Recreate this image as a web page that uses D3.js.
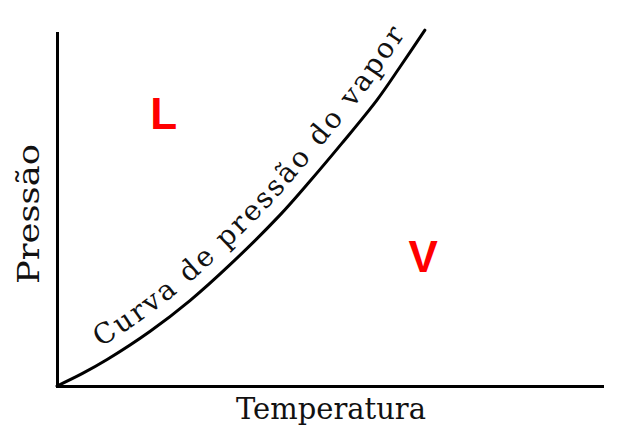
<!DOCTYPE html>
<html><head><meta charset="utf-8">
<script src="https://cdn.jsdelivr.net/npm/d3@7"></script>
<style>body{margin:0;background:#fff}svg{display:block}</style>
</head><body>
<svg id="c" width="621" height="447"></svg>
<script>
// Vapour-pressure curve (arbitrary units)
const temperature = [0, 4.6, 9.2, 17.1, 24.4, 31.7, 40.9, 46.4, 52.3, 58.7, 62.9, 67.5];
const pressure    = [0, 3.5, 7.5, 15.5, 24.2, 34.3, 48.4, 58.0, 68.8, 81.0, 90.3, 100.8];
const curveLabel = "Curva de pressão do vapor";
const xTitle = "Temperatura";
const yTitle = "Pressão";
const regionLabels = ["L", "V"];
const regionT = [19.6, 67.2];
const regionP = [72.8, 32.3];

const svg = d3.select("#c");
const x = d3.scaleLinear().domain([0, 100]).range([57, 602]);
const y = d3.scaleLinear().domain([0, 100]).range([386, 33]);

// axes (lines only)
svg.append("g").attr("transform", `translate(0,${y(0)})`)
  .call(d3.axisBottom(x).tickValues([]).tickSizeOuter(0));
svg.append("g").attr("transform", `translate(${x(0)},0)`)
  .call(d3.axisLeft(y).tickValues([]).tickSizeOuter(0));
svg.selectAll(".domain").attr("stroke", "#000").attr("stroke-width", 3).attr("stroke-linecap", "square");

// curve
const pts = temperature.map((t, i) => [x(t), y(pressure[i])]);
const line = d3.line().curve(d3.curveCatmullRom.alpha(0.5));
const curve = svg.append("path").attr("d", line(pts))
  .attr("fill", "none").attr("stroke", "#000").attr("stroke-width", 3).attr("stroke-linecap", "round");

// offset path for label
const node = curve.node();
const L = node.getTotalLength();
const off = 14, N = 200, samples = [];
for (let i = 0; i <= N; i++) {
  const s = L * i / N;
  const a = node.getPointAtLength(Math.max(0, s - 1)), b = node.getPointAtLength(Math.min(L, s + 1));
  const p = node.getPointAtLength(s);
  let dx = b.x - a.x, dy = b.y - a.y; const m = Math.hypot(dx, dy) || 1; dx /= m; dy /= m;
  samples.push([p.x + dy * off, p.y - dx * off]);
}
svg.append("defs").append("path").attr("id", "lblpath").attr("d", d3.line()(samples));

// label laid out word by word along the path
const font = {family: "DejaVu Serif", size: 28};
function measure(str) {
  const t = svg.append("text").attr("font-family", font.family).attr("font-size", font.size)
    .attr("xml:space", "preserve").text(str);
  const w = t.node().getComputedTextLength(); t.remove(); return w;
}
const words = curveLabel.split(" ");
const spaceW = measure("a a") - measure("aa");
const wordW = words.map(measure);
const nChars = curveLabel.length;
const target = 440, start = 56;
const natural = d3.sum(wordW) + spaceW * (words.length - 1);
const ls = (target - natural) / (nChars - 1);
let pos = start;
words.forEach((w, i) => {
  svg.append("text").attr("font-family", font.family).attr("font-size", font.size).attr("fill", "#111")
    .attr("letter-spacing", ls)
    .append("textPath").attr("href", "#lblpath").attr("startOffset", pos).text(w);
  pos += wordW[i] + ls * w.length + spaceW + ls;
});

// axis titles
svg.append("text").attr("x", 331).attr("y", 419).attr("text-anchor", "middle")
  .attr("font-family", "DejaVu Serif").attr("font-size", 29).attr("fill", "#111")
  .attr("textLength", 190).attr("lengthAdjust", "spacingAndGlyphs").text(xTitle);
svg.append("text").attr("transform", "translate(39,214) rotate(-90)").attr("text-anchor", "middle")
  .attr("font-family", "DejaVu Serif").attr("font-size", 29).attr("fill", "#111")
  .attr("textLength", 140).attr("lengthAdjust", "spacingAndGlyphs").text(yTitle);

// region labels
svg.selectAll(".reg").data(regionLabels).join("text").attr("class", "reg")
  .attr("x", (d, i) => x(regionT[i])).attr("y", (d, i) => y(regionP[i]))
  .attr("text-anchor", "middle").attr("font-family", "Liberation Sans, Arial, sans-serif")
  .attr("font-weight", "bold").attr("font-size", 44).attr("fill", "#ff0000").text(d => d);
</script>
</body></html>
